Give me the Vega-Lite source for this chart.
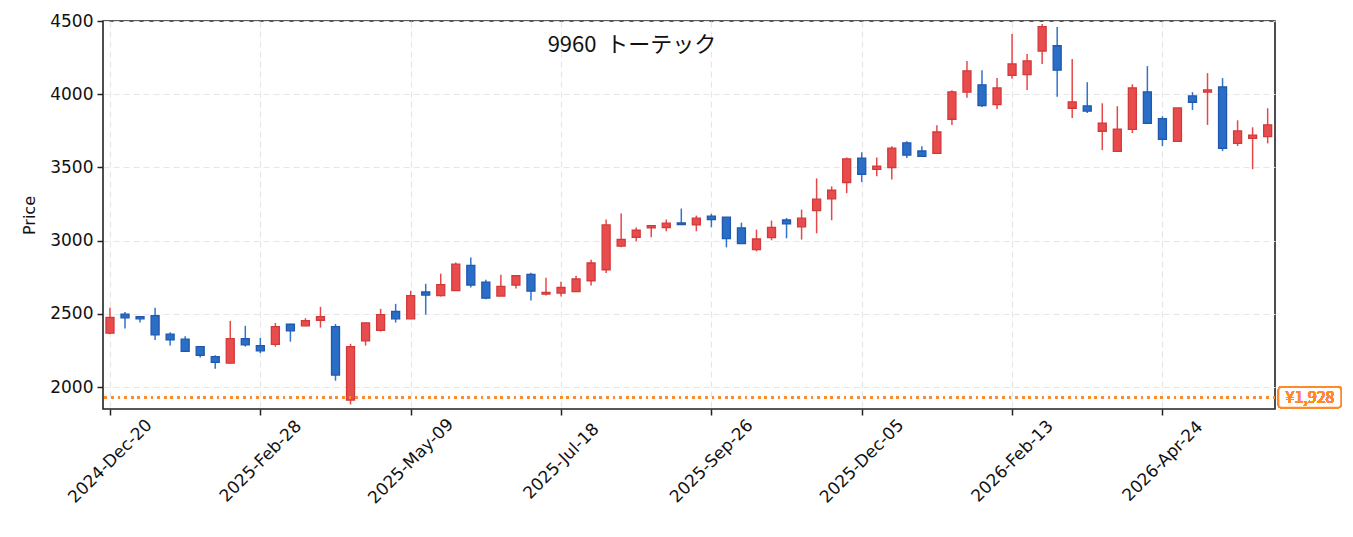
{
  "$schema": "https://vega.github.io/schema/vega-lite/v6.json",
  "width": 1172,
  "height": 388,
  "autosize": "none",
  "padding": {"left": 103, "top": 21, "right": 78, "bottom": 128},
  "background": "white",
  "title": {
    "text": "9960\u00a0\u00a0トーテック",
    "anchor": "middle",
    "dx": -57,
    "dy": 62,
    "offset": 0,
    "baseline": "alphabetic",
    "font": "Noto Sans CJK JP",
    "fontSize": 22,
    "fontWeight": "normal",
    "color": "#111"
  },
  "data": {
    "values": [
      {"date": "2024-12-20", "open": 2368, "high": 2541, "low": 2361, "close": 2475},
      {"date": "2024-12-27", "open": 2498, "high": 2512, "low": 2399, "close": 2473},
      {"date": "2025-01-03", "open": 2481, "high": 2483, "low": 2440, "close": 2466},
      {"date": "2025-01-10", "open": 2488, "high": 2541, "low": 2322, "close": 2356},
      {"date": "2025-01-17", "open": 2361, "high": 2375, "low": 2283, "close": 2322},
      {"date": "2025-01-24", "open": 2327, "high": 2347, "low": 2240, "close": 2244},
      {"date": "2025-01-31", "open": 2276, "high": 2276, "low": 2201, "close": 2217},
      {"date": "2025-02-07", "open": 2208, "high": 2217, "low": 2125, "close": 2169},
      {"date": "2025-02-14", "open": 2164, "high": 2452, "low": 2160, "close": 2331},
      {"date": "2025-02-21", "open": 2331, "high": 2418, "low": 2276, "close": 2288},
      {"date": "2025-02-28", "open": 2283, "high": 2336, "low": 2231, "close": 2247},
      {"date": "2025-03-07", "open": 2292, "high": 2438, "low": 2276, "close": 2413},
      {"date": "2025-03-14", "open": 2429, "high": 2432, "low": 2310, "close": 2384},
      {"date": "2025-03-21", "open": 2418, "high": 2470, "low": 2415, "close": 2454},
      {"date": "2025-03-28", "open": 2456, "high": 2548, "low": 2406, "close": 2481},
      {"date": "2025-04-04", "open": 2413, "high": 2431, "low": 2043, "close": 2082},
      {"date": "2025-04-11", "open": 1911, "high": 2295, "low": 1881, "close": 2276},
      {"date": "2025-04-18", "open": 2315, "high": 2440, "low": 2283, "close": 2438},
      {"date": "2025-04-25", "open": 2388, "high": 2534, "low": 2379, "close": 2495},
      {"date": "2025-05-02", "open": 2516, "high": 2568, "low": 2440, "close": 2466},
      {"date": "2025-05-09", "open": 2466, "high": 2658, "low": 2466, "close": 2625},
      {"date": "2025-05-16", "open": 2649, "high": 2705, "low": 2495, "close": 2628},
      {"date": "2025-05-23", "open": 2625, "high": 2774, "low": 2618, "close": 2699},
      {"date": "2025-05-30", "open": 2658, "high": 2851, "low": 2658, "close": 2840},
      {"date": "2025-06-06", "open": 2831, "high": 2884, "low": 2680, "close": 2697},
      {"date": "2025-06-13", "open": 2717, "high": 2733, "low": 2600, "close": 2608},
      {"date": "2025-06-20", "open": 2621, "high": 2767, "low": 2621, "close": 2687},
      {"date": "2025-06-27", "open": 2697, "high": 2762, "low": 2673, "close": 2760},
      {"date": "2025-07-04", "open": 2769, "high": 2781, "low": 2591, "close": 2655},
      {"date": "2025-07-11", "open": 2635, "high": 2747, "low": 2625, "close": 2646},
      {"date": "2025-07-18", "open": 2642, "high": 2719, "low": 2618, "close": 2680},
      {"date": "2025-07-25", "open": 2651, "high": 2760, "low": 2651, "close": 2738},
      {"date": "2025-08-01", "open": 2726, "high": 2870, "low": 2694, "close": 2847},
      {"date": "2025-08-08", "open": 2801, "high": 3144, "low": 2779, "close": 3107},
      {"date": "2025-08-15", "open": 2963, "high": 3185, "low": 2954, "close": 3009},
      {"date": "2025-08-22", "open": 3023, "high": 3089, "low": 2995, "close": 3071},
      {"date": "2025-08-29", "open": 3087, "high": 3105, "low": 3023, "close": 3103},
      {"date": "2025-09-05", "open": 3089, "high": 3144, "low": 3064, "close": 3119},
      {"date": "2025-09-12", "open": 3121, "high": 3219, "low": 3110, "close": 3110},
      {"date": "2025-09-19", "open": 3107, "high": 3171, "low": 3064, "close": 3153},
      {"date": "2025-09-26", "open": 3167, "high": 3183, "low": 3091, "close": 3144},
      {"date": "2025-10-03", "open": 3160, "high": 3160, "low": 2954, "close": 3014},
      {"date": "2025-10-10", "open": 3087, "high": 3123, "low": 2979, "close": 2979},
      {"date": "2025-10-17", "open": 2938, "high": 3075, "low": 2927, "close": 3011},
      {"date": "2025-10-24", "open": 3021, "high": 3137, "low": 3002, "close": 3091},
      {"date": "2025-10-31", "open": 3141, "high": 3155, "low": 3016, "close": 3114},
      {"date": "2025-11-07", "open": 3094, "high": 3212, "low": 3007, "close": 3153},
      {"date": "2025-11-14", "open": 3205, "high": 3425, "low": 3050, "close": 3283},
      {"date": "2025-11-21", "open": 3285, "high": 3370, "low": 3139, "close": 3344},
      {"date": "2025-11-28", "open": 3397, "high": 3568, "low": 3324, "close": 3559},
      {"date": "2025-12-05", "open": 3563, "high": 3603, "low": 3400, "close": 3452},
      {"date": "2025-12-12", "open": 3486, "high": 3568, "low": 3440, "close": 3509},
      {"date": "2025-12-19", "open": 3498, "high": 3644, "low": 3418, "close": 3632},
      {"date": "2025-12-26", "open": 3668, "high": 3678, "low": 3564, "close": 3584},
      {"date": "2026-01-02", "open": 3612, "high": 3644, "low": 3575, "close": 3575},
      {"date": "2026-01-09", "open": 3596, "high": 3788, "low": 3596, "close": 3742},
      {"date": "2026-01-16", "open": 3829, "high": 4027, "low": 3790, "close": 4016},
      {"date": "2026-01-23", "open": 4014, "high": 4226, "low": 3975, "close": 4160},
      {"date": "2026-01-30", "open": 4064, "high": 4164, "low": 3913, "close": 3922},
      {"date": "2026-02-06", "open": 3929, "high": 4110, "low": 3899, "close": 4043},
      {"date": "2026-02-13", "open": 4128, "high": 4411, "low": 4105, "close": 4207},
      {"date": "2026-02-20", "open": 4134, "high": 4274, "low": 4029, "close": 4228},
      {"date": "2026-02-27", "open": 4295, "high": 4479, "low": 4207, "close": 4461},
      {"date": "2026-03-06", "open": 4331, "high": 4459, "low": 3982, "close": 4164},
      {"date": "2026-03-13", "open": 3904, "high": 4240, "low": 3838, "close": 3947},
      {"date": "2026-03-20", "open": 3920, "high": 4082, "low": 3872, "close": 3884},
      {"date": "2026-03-27", "open": 3747, "high": 3938, "low": 3618, "close": 3803},
      {"date": "2026-04-03", "open": 3610, "high": 3918, "low": 3610, "close": 3762},
      {"date": "2026-04-10", "open": 3760, "high": 4068, "low": 3735, "close": 4043},
      {"date": "2026-04-17", "open": 4016, "high": 4192, "low": 3801, "close": 3801},
      {"date": "2026-04-24", "open": 3833, "high": 3849, "low": 3646, "close": 3692},
      {"date": "2026-05-01", "open": 3678, "high": 3906, "low": 3678, "close": 3906},
      {"date": "2026-05-08", "open": 3988, "high": 4014, "low": 3892, "close": 3945},
      {"date": "2026-05-15", "open": 4014, "high": 4144, "low": 3790, "close": 4029},
      {"date": "2026-05-22", "open": 4050, "high": 4110, "low": 3611, "close": 3630},
      {"date": "2026-05-29", "open": 3664, "high": 3822, "low": 3646, "close": 3749},
      {"date": "2026-06-05", "open": 3699, "high": 3774, "low": 3488, "close": 3721},
      {"date": "2026-06-12", "open": 3710, "high": 3904, "low": 3664, "close": 3791}
    ]
  },
  "encoding": {
    "x": {
      "field": "date",
      "type": "temporal",
      "scale": {
        "type": "utc",
        "padding": 0,
        "domain": [
          {"year": 2024, "month": 12, "date": 16, "hours": 18, "utc": true},
          {"year": 2026, "month": 6, "date": 15, "hours": 10, "utc": true}
        ]
      },
      "axis": {
        "title": null,
        "values": [
          {"year": 2024, "month": 12, "date": 20, "utc": true},
          {"year": 2025, "month": 2, "date": 28, "utc": true},
          {"year": 2025, "month": 5, "date": 9, "utc": true},
          {"year": 2025, "month": 7, "date": 18, "utc": true},
          {"year": 2025, "month": 9, "date": 26, "utc": true},
          {"year": 2025, "month": 12, "date": 5, "utc": true},
          {"year": 2026, "month": 2, "date": 13, "utc": true},
          {"year": 2026, "month": 4, "date": 24, "utc": true}
        ],
        "labelExpr": "utcFormat(datum.value, '%Y-%b-%d')",
        "labelAngle": -45,
        "labelAlign": "center",
        "labelBaseline": "middle",
        "labelPadding": 46
      }
    }
  },
  "layer": [
    {
      "mark": {"type": "rule", "strokeWidth": 1.5},
      "encoding": {
        "y": {
          "field": "low",
          "type": "quantitative",
          "scale": {"domain": [1850, 4500], "nice": false, "zero": false},
          "axis": {
            "title": "Price",
            "values": [2000, 2500, 3000, 3500, 4000, 4500],
            "format": "d",
            "titlePadding": 12
          }
        },
        "y2": {"field": "high"},
        "color": {
          "condition": {"test": "datum.close >= datum.open", "value": "#e8474a"},
          "value": "#2f74cf"
        }
      }
    },
    {
      "mark": {"type": "bar", "size": 8, "strokeWidth": 1.3},
      "encoding": {
        "y": {"field": "open", "type": "quantitative"},
        "y2": {"field": "close"},
        "fill": {
          "condition": {"test": "datum.close >= datum.open", "value": "#e84c4c"},
          "value": "#2a6ec8"
        },
        "stroke": {
          "condition": {"test": "datum.close >= datum.open", "value": "#d23a3a"},
          "value": "#1f58ad"
        }
      }
    },
    {
      "mark": {"type": "rule", "color": "#fd8a2b", "strokeWidth": 1.8, "strokeDash": [2, 4.6]},
      "encoding": {
        "y": {"datum": 1928, "type": "quantitative"},
        "x": null
      }
    },
    {
      "mark": {
        "type": "point",
        "shape": "M0.22,-0.35L2.1,-0.35Q2.2,-0.35 2.2,-0.25L2.2,0.23Q2.2,0.33 2.1,0.33L0.22,0.33Q0.12,0.33 0.12,0.23L0.12,-0.25Q0.12,-0.35 0.22,-0.35Z",
        "size": 3600,
        "filled": true,
        "fill": "white",
        "fillOpacity": 1,
        "stroke": "#fd8a2b",
        "strokeWidth": 1.6,
        "opacity": 1
      },
      "encoding": {
        "x": {
          "datum": {"year": 2026, "month": 6, "date": 15, "hours": 10, "utc": true},
          "type": "temporal",
          "axis": {
            "title": null,
            "labelExpr": "utcFormat(datum.value, '%Y-%b-%d')"
          }
        },
        "y": {"datum": 1928, "type": "quantitative"}
      }
    },
    {
      "mark": {
        "type": "text",
        "text": "¥1,928",
        "dx": 35,
        "dy": 0,
        "align": "center",
        "baseline": "middle",
        "font": "Noto Sans CJK JP",
        "fontSize": 16,
        "color": "#fd8a2b"
      },
      "encoding": {
        "x": {
          "datum": {"year": 2026, "month": 6, "date": 15, "hours": 10, "utc": true},
          "type": "temporal",
          "axis": {
            "title": null,
            "labelExpr": "utcFormat(datum.value, '%Y-%b-%d')"
          }
        },
        "y": {"datum": 1928, "type": "quantitative"}
      }
    }
  ],
  "config": {
    "font": "DejaVu Sans",
    "view": {"stroke": "#222", "strokeWidth": 1.6},
    "axis": {
      "domain": false,
      "grid": true,
      "gridColor": "#e6e6e6",
      "gridDash": [6, 4],
      "gridWidth": 1.2,
      "ticks": true,
      "tickColor": "#222",
      "tickWidth": 1.5,
      "tickSize": 6,
      "labelFont": "DejaVu Sans",
      "labelFontSize": 17,
      "labelColor": "#111",
      "labelPadding": 4,
      "titleFont": "DejaVu Sans",
      "titleFontSize": 16,
      "titleFontWeight": "normal",
      "titleColor": "#111"
    }
  }
}
